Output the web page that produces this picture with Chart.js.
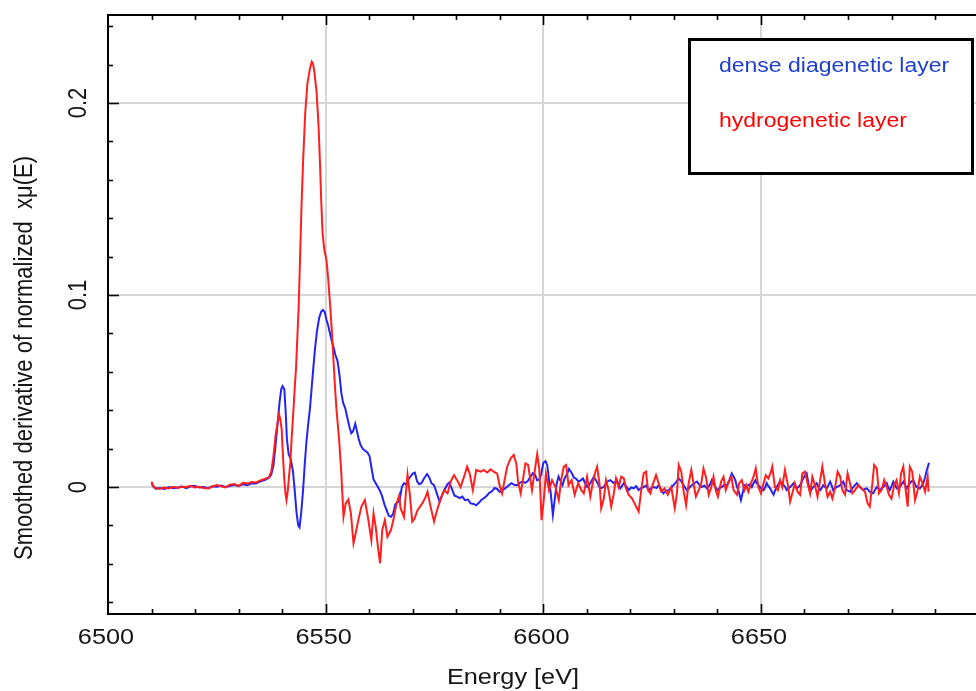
<!DOCTYPE html>
<html>
<head>
<meta charset="utf-8">
<script src="https://cdn.jsdelivr.net/npm/chart.js@4.4.1/dist/chart.umd.min.js"></script>
<style>
  html, body { margin: 0; padding: 0; background: #fff; overflow: hidden; }
  #wrap { width: 976px; height: 691px; position: relative; }
</style>
</head>
<body>
<div id="wrap"><canvas id="c" width="976" height="691"></canvas></div>
<script>
// ---- Fe K-edge derivative spectra: energy (eV) and smoothed derivative of normalized xmu(E) ----
const diageneticEnergy = [
  6510.0,6510.5,6511,6512,6513,6514,6515,6516,6517,6518,6519,6520,6521,6522,6523,6524,6525,6526,6527,6528,6529,6530,
  6531,6532,6533,6534,6535,6536,6537,6537.5,6538,6538.5,6539,6539.4,6539.8,6540.1,6540.5,6540.8,6541.1,6541.5,6542,
  6542.5,6542.9,6543.3,6543.7,6544.0,6544.4,6544.8,6545.2,6545.6,6546.0,6546.4,6546.8,6547.2,6547.6,6548.0,6548.5,
  6549.0,6549.4,6549.8,6550.2,6550.6,6551.0,6551.4,6551.8,6552.2,6552.7,6553.2,6553.6,6554.0,6554.5,6555.0,6555.5,
  6555.9,6556.3,6556.8,6557.2,6557.6,6558.0,6558.5,6559.0,6559.6,6560.1,6560.6,6561.0,6561.5,6562.0,6562.5,6563.0,
  6563.5,6564.0,6564.5,6565.0,6565.5,6566.0,6566.5,6567.0,6567.5,6568.0,6568.5,6569.0,6569.5,6570.0,6570.5,6571.0,
  6571.5,6572.0,6572.6,6573.3,6573.8,6574.3,6574.9,6575.5,6576.2,6576.8,6577.4,6578.0,6578.4,6579.0,6579.6,6580.2,
  6580.8,6581.4,6582.0,6582.7,6583.3,6584.0,6584.6,6585.2,6585.8,6586.4,6587.0,6587.6,6588.2,6588.8,6589.4,6590.0,
  6590.7,6591.3,6592.0,6592.7,6593.3,6594.0,6594.6,6595.2,6595.8,6596.4,6597.0,6597.6,6598.1,6598.6,6599.1,6599.5,
  6600.0,6600.5,6600.9,6601.3,6601.7,6602.2,6602.6,6603.0,6603.5,6604.0,6604.4,6604.9,6605.4,6605.9,6606.5,6607.0,
  6607.6,6608.1,6608.6,6609.1,6609.6,6610.1,6610.8,6611.6,6612.3,6613.1,6613.9,6614.6,6615.4,6616.2,6616.9,6617.7,
  6618.5,6619.0,6619.6,6620.2,6620.8,6621.3,6621.9,6622.5,6623.1,6623.6,6624.2,6624.8,6625.4,6626.0,6626.5,6627.0,
  6627.6,6628.2,6628.8,6629.4,6629.9,6630.5,6631.1,6631.7,6632.2,6632.6,6633.0,6633.6,6634.1,6634.7,6635.3,6635.9,
  6636.4,6637.0,6637.6,6638.2,6638.7,6639.3,6639.9,6640.5,6641.0,6641.6,6642.2,6642.8,6643.3,6643.7,6644.1,6644.5,
  6644.9,6645.4,6645.8,6646.2,6646.7,6647.1,6647.5,6647.9,6648.3,6648.7,6649.0,6649.4,6650.0,6650.6,6651.0,6651.3,
  6651.7,6652.1,6652.5,6652.9,6653.2,6653.6,6654.0,6654.4,6654.8,6655.2,6655.6,6655.9,6656.3,6656.7,6657.1,6657.5,
  6657.9,6658.2,6658.6,6659.0,6659.4,6659.7,6660.1,6660.5,6660.9,6661.3,6661.7,6662.0,6662.4,6662.8,6663.2,6663.6,
  6664.0,6664.3,6664.7,6665.1,6665.5,6665.9,6666.3,6666.6,6667.0,6667.4,6667.8,6668.2,6668.6,6668.9,6669.3,6669.7,
  6670.1,6670.5,6670.8,6671.2,6671.6,6672.0,6672.4,6672.7,6673.1,6673.5,6673.9,6674.3,6674.7,6675.0,6675.4,6675.8,
  6676.2,6676.6,6677.0,6677.3,6677.7,6678.1,6678.5,6678.9,6679.2,6679.6,6680.0,6680.4,6680.8,6681.2,6681.5,6681.9,
  6682.3,6682.7,6683.1,6683.5,6683.8,6684.2,6684.6,6685.0,6685.4,6685.7,6686.1,6686.5,6686.9,6687.3,6687.7,6688.0,
  6688.6
];
const diageneticDeriv = [
  0.0020,0.0000,-0.0008,-0.0005,-0.0010,0.0000,-0.0006,-0.0002,0.0003,-0.0006,0.0004,0.0006,-0.0002,0.0000,-0.0006,0.0004,0.0002,0.0008,0.0001,0.0006,0.0012,0.0004,
  0.0015,0.0010,0.0020,0.0018,0.0030,0.0036,0.0048,0.0065,0.0110,0.0220,0.0340,0.0440,0.0510,0.0525,0.0510,0.0400,0.0250,0.0170,0.0145,
  0.0080,-0.0020,-0.0130,-0.0200,-0.0210,-0.0130,-0.0020,0.0120,0.0240,0.0330,0.0410,0.0520,0.0630,0.0730,0.0810,0.0880,
  0.0915,0.0922,0.0910,0.0870,0.0840,0.0800,0.0760,0.0730,0.0690,0.0660,0.0580,0.0490,0.0440,0.0410,0.0360,0.0310,
  0.0280,0.0290,0.0330,0.0290,0.0250,0.0220,0.0200,0.0190,0.0180,0.0160,0.0090,0.0040,0.0020,0.0000,-0.0020,-0.0050,
  -0.0090,-0.0120,-0.0150,-0.0155,-0.0140,-0.0090,-0.0080,-0.0070,0.0000,0.0020,0.0015,0.0040,0.0055,0.0070,0.0075,0.0030,
  0.0015,0.0020,0.0045,0.0068,0.0050,0.0020,0.0010,-0.0030,-0.0078,-0.0040,-0.0010,0.0015,0.0023,-0.0010,-0.0045,-0.0050,
  -0.0058,-0.0050,-0.0068,-0.0065,-0.0085,-0.0088,-0.0095,-0.0082,-0.0066,-0.0058,-0.0045,-0.0030,-0.0022,-0.0005,-0.0010,-0.0025,
  -0.0015,-0.0006,0.0008,0.0020,0.0012,0.0010,0.0022,0.0028,0.0022,0.0030,0.0052,0.0072,0.0065,0.0035,0.0040,0.0065,
  0.0125,0.0135,0.0115,0.0040,-0.0030,-0.0145,-0.0070,0.0010,0.0055,0.0030,0.0010,0.0045,0.0065,0.0095,0.0075,0.0050,
  0.0042,0.0028,0.0035,0.0045,0.0020,0.0000,0.0020,0.0054,0.0028,-0.0007,0.0000,0.0028,0.0036,0.0020,0.0036,-0.0007,
  0.0020,0.0005,-0.0016,-0.0002,-0.0007,0.0005,-0.0016,-0.0005,0.0000,0.0008,-0.0016,-0.0004,0.0000,-0.0005,0.0010,-0.0010,
  -0.0033,-0.0020,-0.0016,-0.0002,0.0010,0.0025,0.0045,0.0030,0.0010,-0.0005,-0.0016,-0.0002,0.0010,0.0020,0.0028,0.0010,
  0.0000,0.0008,-0.0007,0.0010,0.0036,0.0010,-0.0016,-0.0005,0.0000,0.0012,0.0010,0.0040,0.0071,0.0055,0.0036,0.0000,
  -0.0024,-0.0068,-0.0030,0.0010,0.0005,0.0010,0.0015,0.0000,0.0020,0.0036,0.0020,0.0010,-0.0005,-0.0016,0.0000,0.0020,
  0.0005,-0.0007,-0.0025,-0.0040,-0.0020,0.0000,0.0015,0.0028,0.0020,0.0010,0.0000,-0.0016,-0.0008,0.0000,0.0010,0.0020,
  0.0005,-0.0007,0.0000,0.0010,0.0030,0.0045,0.0060,0.0071,0.0020,-0.0024,-0.0010,0.0000,0.0010,0.0020,0.0000,-0.0016,
  -0.0003,0.0010,0.0000,-0.0007,0.0010,0.0028,0.0005,-0.0016,-0.0008,0.0000,0.0005,0.0010,0.0020,0.0028,0.0005,-0.0016,
  -0.0020,-0.0024,-0.0012,0.0000,0.0010,0.0020,0.0010,0.0000,-0.0008,-0.0016,-0.0010,-0.0007,-0.0016,-0.0024,-0.0030,-0.0033,
  -0.0015,0.0000,-0.0008,-0.0016,-0.0008,0.0000,0.0010,0.0020,0.0000,-0.0016,0.0005,0.0028,0.0010,-0.0007,-0.0003,0.0000,
  0.0015,0.0028,0.0010,-0.0007,0.0005,0.0020,0.0030,0.0036,0.0015,0.0000,-0.0003,-0.0007,0.0005,0.0020,0.0050,0.0080,
  0.0127
];

const hydrogeneticEnergy = [
  6510.0,6510.4,6511,6512,6513,6514,6515,6516,6517,6518,6519,6520,6521,6522,6523,6524,6525,6526,6527,6528,6529,6530,
  6531,6532,6533,6534,6535,6536,6537,6537.5,6538,6538.5,6539,6539.3,6539.6,6539.9,6540.2,6540.5,6540.8,6541.0,6541.3,
  6541.6,6541.9,6542.2,6542.6,6542.9,6543.2,6543.5,6543.8,6544.1,6544.45,6544.8,6545.3,6545.8,6546.4,6546.8,6547.1,
  6547.4,6547.9,6548.35,6548.7,6549.0,6549.3,6549.7,6550.2,6550.6,6551.0,6551.4,6551.8,6552.2,6552.5,6553.1,6553.6,
  6554.1,6554.6,6555.2,6555.8,6556.4,6556.9,6557.5,6558.2,6559.0,6559.7,6560.5,6561.0,6561.5,6562.0,6562.5,6563.0,
  6563.6,6564.2,6565.0,6565.55,6566.3,6566.9,6567.2,6568.0,6568.4,6568.8,6569.3,6569.9,6570.4,6571.1,6572.2,6573.0,
  6573.4,6574.1,6574.9,6575.6,6576.4,6577.2,6578.0,6578.7,6579.5,6580.2,6581.0,6581.8,6582.5,6583.1,6583.8,6584.6,
  6585.6,6586.3,6587.1,6587.9,6588.6,6589.4,6589.95,6590.55,6591.1,6591.7,6592.5,6593.2,6593.8,6594.2,6594.8,6595.3,
  6595.9,6596.5,6597.1,6597.4,6598.0,6598.6,6599.1,6599.6,6600.1,6600.6,6601.3,6602.0,6602.8,6603.55,6604.1,6604.7,
  6605.25,6605.8,6606.5,6607.2,6608.0,6608.75,6609.3,6610.05,6610.8,6611.35,6611.95,6612.35,6612.9,6613.3,6613.9,6614.4,
  6615.0,6615.6,6616.2,6616.7,6617.3,6617.9,6618.5,6619.0,6619.6,6620.4,6621.15,6621.9,6622.5,6623.05,6623.6,6624.05,
  6624.6,6625.1,6625.9,6626.5,6627.1,6627.85,6628.6,6629.4,6630.2,6630.7,6631.1,6631.7,6632.2,6632.8,6633.4,6634.0,
  6634.5,6635.05,6635.7,6636.3,6636.8,6637.35,6638.0,6638.6,6639.1,6639.6,6640.1,6640.85,6641.4,6641.9,6642.5,6643.2,
  6643.7,6644.5,6645.0,6645.6,6646.2,6646.6,6647.1,6647.7,6648.3,6648.8,6649.4,6650.0,6650.6,6651.1,6651.7,6652.3,
  6652.6,6653.2,6653.9,6654.4,6654.9,6655.5,6656.2,6656.7,6657.2,6657.8,6658.4,6659.0,6659.5,6660.1,6660.7,6661.3,
  6661.8,6662.4,6663.0,6663.6,6664.1,6664.7,6665.3,6665.9,6666.4,6667.0,6667.6,6668.2,6668.7,6669.3,6669.9,6670.45,
  6671.0,6671.6,6672.4,6673.1,6673.9,6674.5,6675.0,6675.6,6676.0,6676.6,6677.1,6677.7,6678.3,6678.9,6679.4,6680.0,
  6680.6,6681.15,6681.7,6682.2,6682.7,6683.2,6683.7,6684.2,6684.75,6685.4,6686.0,6686.5,6687.1,6687.7,6688.3,6688.5
];
const hydrogeneticDeriv = [
  0.0028,0.0005,-0.0006,-0.0009,-0.0003,-0.0007,0.0001,-0.0005,0.0002,0.0000,0.0006,-0.0002,0.0002,-0.0005,-0.0008,0.0003,0.0010,0.0004,-0.0002,0.0012,0.0016,0.0006,
  0.0022,0.0018,0.0026,0.0024,0.0035,0.0042,0.0052,0.0080,0.0160,0.0270,0.0340,0.0380,0.0350,0.0300,0.0160,0.0040,-0.0040,-0.0068,-0.0020,
  0.0060,0.0130,0.0260,0.0400,0.0520,0.0620,0.0780,0.0940,0.1180,0.1460,0.1686,0.1946,0.2100,0.2180,0.2215,0.2205,
  0.2163,0.2060,0.1890,0.1686,0.1480,0.1320,0.1234,0.1180,0.1080,0.0957,0.0820,0.0660,0.0500,0.0400,0.0245,0.0070,
  -0.0155,-0.0085,-0.0065,-0.0137,-0.0293,-0.0240,-0.0172,-0.0103,-0.0068,-0.0155,-0.0276,-0.0137,-0.0207,-0.0310,-0.0397,-0.0224,
  -0.0172,-0.0259,-0.0224,-0.0172,-0.0085,-0.0043,-0.0110,-0.0155,-0.0040,0.0065,-0.0030,-0.0180,-0.0165,-0.0120,-0.0085,-0.0050,
  -0.0024,-0.0102,-0.0180,-0.0120,-0.0060,-0.0016,-0.0033,0.0028,0.0062,0.0036,0.0000,0.0054,0.0106,0.0070,-0.0016,0.0089,
  0.0080,0.0089,0.0076,0.0092,0.0080,0.0070,0.0010,-0.0033,0.0036,0.0106,0.0150,0.0167,0.0123,0.0028,-0.0033,0.0036,
  0.0123,0.0115,0.0028,-0.0016,0.0080,0.0172,0.0089,-0.0172,-0.0068,0.0070,-0.0016,0.0036,0.0000,-0.0068,0.0036,0.0106,
  0.0115,0.0010,0.0036,-0.0040,0.0020,-0.0016,-0.0033,0.0054,-0.0050,0.0020,0.0080,0.0106,0.0020,-0.0110,-0.0060,0.0036,
  -0.0016,-0.0102,-0.0033,0.0045,0.0000,0.0054,0.0045,-0.0007,-0.0040,-0.0060,-0.0094,-0.0128,-0.0016,0.0071,0.0080,-0.0016,
  -0.0033,0.0010,0.0062,0.0020,-0.0024,-0.0007,-0.0040,0.0000,-0.0110,-0.0033,0.0115,0.0080,-0.0016,-0.0094,0.0020,0.0089,
  0.0020,-0.0050,-0.0016,0.0020,0.0097,0.0054,-0.0040,0.0000,0.0054,-0.0016,-0.0050,0.0028,0.0054,-0.0016,0.0020,0.0054,
  -0.0016,-0.0040,0.0020,0.0036,-0.0016,0.0010,-0.0024,0.0020,0.0054,0.0097,0.0000,-0.0033,0.0020,0.0062,0.0045,0.0080,
  0.0106,0.0000,-0.0016,0.0036,0.0000,0.0089,0.0010,-0.0076,-0.0033,0.0020,-0.0024,-0.0040,0.0071,0.0080,0.0020,-0.0033,
  0.0054,0.0010,-0.0050,0.0036,0.0106,0.0020,-0.0050,-0.0024,-0.0060,-0.0007,0.0080,0.0054,-0.0016,-0.0040,0.0071,0.0020,
  -0.0033,-0.0016,0.0010,-0.0007,-0.0024,-0.0085,-0.0102,0.0020,0.0115,0.0097,-0.0033,-0.0016,0.0036,0.0000,-0.0040,-0.0060,
  0.0010,0.0036,-0.0033,0.0071,0.0106,-0.0007,-0.0102,0.0106,0.0080,-0.0068,-0.0016,0.0054,0.0020,-0.0024,0.0054,-0.0024
];

// axis ticks and labels
const xTickValues = [6500, 6550, 6600, 6650];
const xTickLabels = ['6500', '6550', '6600', '6650'];
const yTickValues = [0, 0.1, 0.2];
const yTickLabels = ['0', '0.1', '0.2'];
const seriesNames = ['dense diagenetic layer', 'hydrogenetic layer'];
const xTitle = 'Energy [eV]';
const yTitle = 'Smoothed derivative of normalized  x\u03bc(E)';

const FONT = '"Liberation Sans", Arial, Helvetica, sans-serif';
const STRETCH = 1.15; // glyphs are drawn slightly wide

function toPoints(xs, ys) { return xs.map((x, i) => ({ x: x, y: ys[i] })); }

function wideText(ctx, text, x, y, opts) {
  ctx.save();
  ctx.translate(x, y);
  ctx.scale(STRETCH, 1);
  if (opts.rotate) ctx.rotate(opts.rotate);
  ctx.font = opts.font;
  ctx.fillStyle = opts.color || '#111';
  ctx.textAlign = opts.align || 'center';
  ctx.textBaseline = opts.baseline || 'middle';
  ctx.fillText(text, 0, 0);
  ctx.restore();
}

// frame, inward tick marks, tick labels, titles and the boxed legend
const decorations = {
  id: 'decorations',
  afterDraw(chart) {
    const ctx = chart.ctx;
    const area = chart.chartArea;
    const xs = chart.scales.x, ys = chart.scales.y;
    ctx.save();
    ctx.strokeStyle = '#000';
    ctx.lineWidth = 2;
    // top frame line
    ctx.beginPath();
    ctx.moveTo(area.left - 1, area.top);
    ctx.lineTo(area.right, area.top);
    ctx.stroke();
    // x ticks every 10 eV on bottom and top edges
    ctx.lineWidth = 1.6;
    for (let e = 6510; e < xs.max; e += 10) {
      const px = Math.round(xs.getPixelForValue(e)) + 0.5;
      const len = (e % 50 === 0) ? 10 : 5;
      ctx.beginPath();
      ctx.moveTo(px, area.bottom); ctx.lineTo(px, area.bottom - len);
      ctx.moveTo(px, area.top); ctx.lineTo(px, area.top + len);
      ctx.stroke();
    }
    // y ticks every 0.02 on the left edge
    for (let k = -3; k <= 12; k++) {
      const v = k * 0.02;
      const py = Math.round(ys.getPixelForValue(v)) + 0.5;
      const len = (k % 5 === 0) ? 11 : 5;
      ctx.beginPath();
      ctx.moveTo(area.left, py); ctx.lineTo(area.left + len, py);
      ctx.stroke();
    }
    ctx.restore();

    // tick labels
    const tickFont = '22px ' + FONT;
    xTickValues.forEach((v, i) => {
      wideText(ctx, xTickLabels[i], xs.getPixelForValue(v) - 2, 638, { font: tickFont, color: '#151515' });
    });
    yTickValues.forEach((v, i) => {
      wideText(ctx, yTickLabels[i], 79, ys.getPixelForValue(v), { font: tickFont, rotate: -Math.PI / 2, color: '#151515' });
    });
    // axis titles
    wideText(ctx, xTitle, 513, 678, { font: '22px ' + FONT, color: '#151515' });
    wideText(ctx, yTitle, 25, 358, { font: '22px ' + FONT, rotate: -Math.PI / 2, color: '#151515' });

    // legend box
    ctx.save();
    ctx.fillStyle = '#fff';
    ctx.fillRect(689, 39, 284, 135);
    ctx.strokeStyle = '#000';
    ctx.lineWidth = 3;
    ctx.strokeRect(689.5, 39.5, 283, 134);
    ctx.restore();
    wideText(ctx, seriesNames[0], 719, 71.5, { font: '20px ' + FONT, color: '#1f3fcf', align: 'left', baseline: 'alphabetic' });
    wideText(ctx, seriesNames[1], 719, 126.5, { font: '20px ' + FONT, color: '#ff0000', align: 'left', baseline: 'alphabetic' });
  }
};

new Chart(document.getElementById('c'), {
  type: 'line',
  data: {
    datasets: [
      {
        label: seriesNames[1],
        data: toPoints(hydrogeneticEnergy, hydrogeneticDeriv),
        borderColor: '#ff1f1f',
        borderWidth: 2,
        pointRadius: 0,
        tension: 0,
        fill: false
      },
      {
        label: seriesNames[0],
        data: toPoints(diageneticEnergy, diageneticDeriv),
        borderColor: '#2424f2',
        borderWidth: 2,
        pointRadius: 0,
        tension: 0,
        fill: false
      }
    ]
  },
  options: {
    responsive: false,
    animation: false,
    devicePixelRatio: 1,
    layout: { padding: { left: 108, top: 15, right: 0, bottom: 77 } },
    plugins: { legend: { display: false }, tooltip: { enabled: false } },
    scales: {
      x: {
        type: 'linear',
        min: 6500,
        max: 6699.4,
        afterBuildTicks: (s) => { s.ticks = xTickValues.map(v => ({ value: v })); },
        afterFit: (s) => { s.height = 0; },
        ticks: { display: false },
        grid: { color: '#d6d6d6', lineWidth: 2, drawTicks: false },
        border: { display: true, color: '#000', width: 2 }
      },
      y: {
        type: 'linear',
        min: -0.0661,
        max: 0.2458,
        afterBuildTicks: (s) => { s.ticks = yTickValues.map(v => ({ value: v })); },
        afterFit: (s) => { s.width = 0; },
        ticks: { display: false },
        grid: { color: '#d6d6d6', lineWidth: 2, drawTicks: false },
        border: { display: true, color: '#000', width: 2 }
      }
    }
  },
  plugins: [decorations]
});
</script>
</body>
</html>
